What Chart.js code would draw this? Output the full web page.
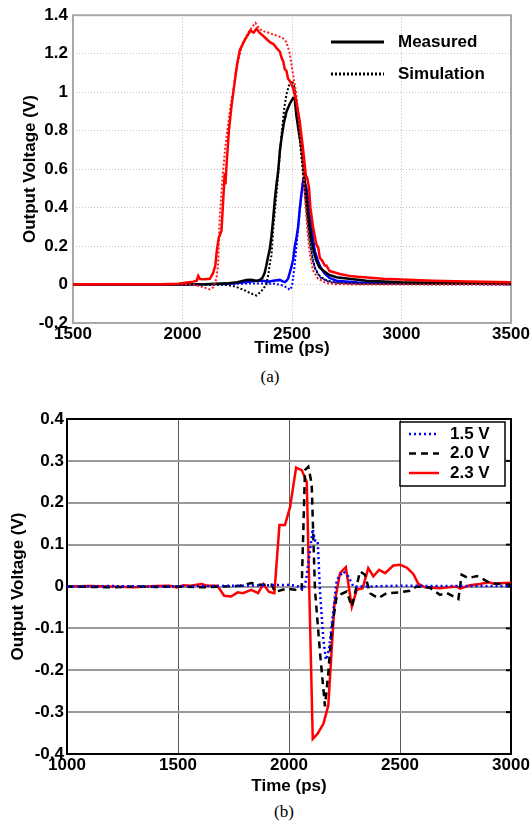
<!DOCTYPE html>
<html lang="en">
<head>
  <meta charset="UTF-8" />
  <title>Output voltage vs time</title>
  <script src="https://cdn.jsdelivr.net/npm/chart.js"></script>
  <style>
    body { margin: 0; background: #fff; width: 532px; height: 824px; position: relative; overflow: hidden; }
    .box { position: absolute; left: 0; width: 532px; }
    .cap { position: absolute; font-family: 'Liberation Serif', 'Times New Roman', serif; font-size: 17px; color: #000; transform: translateX(-50%); }
  </style>
</head>
<body>
  <!-- (a) measured vs simulation -->
  <div class="box" style="top:0;height:362px"><canvas id="chartA"></canvas></div>
  <div class="cap" style="left:270px;top:367px">(a)</div>

  <!-- (b) three supply voltages -->
  <div class="box" style="top:395px;height:405px"><canvas id="chartB"></canvas></div>
  <div class="cap" style="left:284px;top:802px">(b)</div>

<script>
// ---- (a) data: [time ps, volts] ----
const redMeasured = [[1500,0],[1600,0.002],[1700,0.001],[1800,0.002],[1900,0.002],[1980,0.004],[2020,0.01],[2050,0.015],[2065,0.02],[2072,0.045],[2080,0.028],[2100,0.027],[2125,0.03],[2140,0.06],[2150,0.1],[2157,0.18],[2165,0.24],[2178,0.28],[2188,0.48],[2193,0.58],[2196,0.52],[2201,0.62],[2212,0.8],[2224,0.93],[2239,1.06],[2250,1.15],[2262,1.22],[2284,1.27],[2300,1.3],[2310,1.32],[2325,1.31],[2338,1.33],[2350,1.31],[2361,1.3],[2380,1.28],[2399,1.26],[2415,1.25],[2429,1.23],[2445,1.21],[2452,1.18],[2460,1.16],[2467,1.12],[2475,1.11],[2482,1.07],[2495,1.05],[2505,1.02],[2520,0.95],[2535,0.85],[2550,0.71],[2563,0.57],[2570,0.55],[2578,0.5],[2584,0.4],[2596,0.3],[2611,0.21],[2620,0.19],[2627,0.14],[2640,0.12],[2649,0.1],[2657,0.098],[2672,0.07],[2703,0.06],[2718,0.055],[2763,0.045],[2800,0.04],[2915,0.03],[3000,0.026],[3143,0.02],[3300,0.016],[3500,0.012]];
const redSimulation = [[1500,0],[1800,0],[2050,0],[2090,-0.012],[2125,-0.025],[2140,-0.015],[2155,0.03],[2163,0.11],[2170,0.35],[2178,0.48],[2186,0.6],[2196,0.72],[2208,0.83],[2220,0.93],[2231,1.0],[2243,1.1],[2254,1.16],[2266,1.22],[2277,1.26],[2300,1.31],[2320,1.34],[2333,1.36],[2345,1.34],[2361,1.32],[2390,1.31],[2414,1.3],[2440,1.29],[2459,1.28],[2475,1.26],[2490,1.2],[2505,1.09],[2520,0.99],[2535,0.81],[2550,0.64],[2558,0.47],[2569,0.3],[2581,0.16],[2596,0.073],[2619,0.03],[2657,0.007],[2700,0.002],[2800,0],[3500,0]];
const blackMeasured = [[1500,0],[1900,0],[2100,0.002],[2200,0.006],[2250,0.012],[2292,0.024],[2315,0.025],[2338,0.018],[2355,0.025],[2365,0.035],[2375,0.06],[2383,0.1],[2390,0.14],[2398,0.18],[2406,0.25],[2413,0.33],[2421,0.435],[2429,0.52],[2437,0.59],[2445,0.7],[2452,0.76],[2463,0.84],[2475,0.9],[2490,0.94],[2505,0.97],[2512,0.97],[2520,0.88],[2530,0.8],[2543,0.71],[2558,0.54],[2573,0.37],[2589,0.23],[2600,0.17],[2611,0.124],[2625,0.09],[2642,0.073],[2670,0.05],[2703,0.038],[2780,0.028],[2839,0.02],[3000,0.012],[3200,0.008],[3500,0.005]];
const blackSimulation = [[1500,0],[2100,0],[2200,-0.002],[2240,-0.01],[2280,-0.028],[2310,-0.045],[2338,-0.057],[2360,-0.035],[2375,-0.012],[2383,0],[2393,0.06],[2400,0.12],[2406,0.15],[2415,0.3],[2430,0.48],[2440,0.62],[2452,0.78],[2465,0.92],[2475,0.99],[2490,1.05],[2500,1.06],[2510,1.03],[2520,0.94],[2535,0.76],[2550,0.58],[2565,0.4],[2580,0.23],[2595,0.12],[2610,0.07],[2630,0.04],[2660,0.02],[2700,0.01],[2800,0.004],[3500,0.002]];
const blueMeasured = [[1500,0],[2000,0],[2200,0.003],[2250,0.008],[2300,0.015],[2340,0.02],[2368,0.02],[2390,0.015],[2414,0.02],[2444,0.024],[2460,0.015],[2467,0.013],[2475,0.02],[2482,0.03],[2497,0.09],[2505,0.13],[2513,0.2],[2520,0.24],[2528,0.3],[2536,0.4],[2543,0.47],[2551,0.54],[2558,0.53],[2566,0.5],[2573,0.44],[2581,0.37],[2589,0.3],[2596,0.23],[2605,0.17],[2619,0.12],[2630,0.09],[2649,0.057],[2670,0.035],[2703,0.02],[2800,0.01],[3000,0.006],[3500,0.003]];
const blueSimulation = [[1500,0],[2100,0],[2250,0.004],[2350,0.006],[2420,0.004],[2460,-0.005],[2480,-0.018],[2490,-0.028],[2500,-0.01],[2510,0.08],[2520,0.19],[2535,0.38],[2550,0.54],[2558,0.53],[2563,0.5],[2573,0.35],[2589,0.18],[2604,0.09],[2627,0.038],[2672,0.012],[2750,0.004],[3500,0]];
const xTicksA = [1500, 2000, 2500, 3000, 3500];
const yTicksA = [-0.2, 0, 0.2, 0.4, 0.6, 0.8, 1, 1.2, 1.4];

// ---- (b) data ----
const legendB = ['1.5 V', '2.0 V', '2.3 V'];
const v15 = [[1000,0],[1200,0.001],[1400,0],[1600,0.001],[1800,0.002],[1900,0.003],[2005,0.004],[2042,0],[2065,-0.008],[2077,0.016],[2095,0.088],[2107,0.137],[2117,0.11],[2129,0.11],[2140,-0.016],[2155,-0.127],[2166,-0.175],[2180,-0.151],[2192,-0.095],[2215,0.016],[2245,0.036],[2267,0.024],[2290,0],[2357,0],[2500,0.002],[2700,0.001],[3000,0.001]];
const v20 = [[1000,0],[1100,-0.001],[1200,-0.002],[1300,0],[1400,-0.001],[1500,0],[1616,-0.002],[1700,0],[1780,0.002],[1830,0.008],[1870,0.004],[1922,0.004],[1937,-0.013],[1990,-0.005],[2027,-0.008],[2057,-0.008],[2072,0.278],[2087,0.286],[2102,0.246],[2117,-0.008],[2140,-0.16],[2162,-0.286],[2177,-0.207],[2192,-0.103],[2215,-0.023],[2260,-0.012],[2283,-0.048],[2320,0.036],[2342,0.028],[2365,-0.016],[2402,-0.028],[2440,-0.016],[2500,-0.014],[2545,-0.01],[2575,0],[2635,-0.003],[2680,-0.02],[2710,-0.015],[2763,-0.03],[2778,0.028],[2808,0.02],[2846,0.025],[2876,0.017],[2906,0.008],[3000,0.004]];
const v23 = [[1000,0],[1100,0.001],[1200,0],[1300,-0.002],[1400,0.001],[1463,0.002],[1494,-0.002],[1524,0.003],[1555,0.002],[1607,0.006],[1631,0.002],[1677,0.002],[1708,-0.022],[1739,-0.024],[1769,-0.014],[1792,-0.016],[1830,-0.008],[1861,-0.016],[1884,0.006],[1910,-0.013],[1934,-0.016],[1957,0.147],[1982,0.147],[2005,0.19],[2032,0.284],[2057,0.278],[2080,0.25],[2107,-0.364],[2128,-0.352],[2155,-0.328],[2177,-0.284],[2205,-0.04],[2230,0.032],[2256,0.046],[2283,-0.048],[2305,-0.008],[2332,-0.004],[2357,0.044],[2380,0.024],[2406,0.04],[2433,0.032],[2470,0.05],[2500,0.052],[2530,0.045],[2560,0.03],[2583,0.006],[2613,-0.002],[2680,-0.004],[2755,0],[2770,-0.005],[2815,0.003],[2860,0.006],[2898,0.01],[2920,0.007],[3000,0.009]];
const xTicksB = [1000, 1500, 2000, 2500, 3000];
const yTicksB = [-0.4, -0.3, -0.2, -0.1, 0, 0.1, 0.2, 0.3, 0.4];

const FONT = "'Liberation Sans', Arial, Helvetica, sans-serif";
Chart.defaults.font.family = FONT;
Chart.defaults.font.size = 17;
Chart.defaults.font.weight = 'bold';
Chart.defaults.color = '#000';

const toXY = arr => arr.map(([x, y]) => ({ x, y }));

// box around the plot area (+ optional inner ticks on the right side)
const framePlugin = {
  id: 'frame',
  beforeDatasetsDraw(chart, args, o) {
    const { ctx, chartArea: a } = chart;
    ctx.save();
    ctx.strokeStyle = o.color;
    ctx.lineWidth = o.width;
    ctx.strokeRect(a.left, a.top, a.right - a.left, a.bottom - a.top);
    if (o.rightTicks) {
      const ys = chart.scales.y;
      ys.ticks.forEach(t => {
        const py = ys.getPixelForValue(t.value);
        ctx.beginPath();
        ctx.moveTo(a.right, py);
        ctx.lineTo(a.right - o.rightTicks, py);
        ctx.stroke();
      });
    }
    ctx.restore();
  }
};

// legend drawn inside the plot, line samples taken from the datasets
const lineLegend = {
  id: 'lineLegend',
  afterDraw(chart, args, o) {
    const ctx = chart.ctx;
    ctx.save();
    if (o.box) {
      ctx.fillStyle = '#fff';
      ctx.fillRect(o.box[0], o.box[1], o.box[2], o.box[3]);
      ctx.strokeStyle = '#000';
      ctx.lineWidth = 1.5;
      ctx.strokeRect(o.box[0], o.box[1], o.box[2], o.box[3]);
    }
    o.items.forEach((idx, i) => {
      const ds = chart.data.datasets[idx];
      const y = o.y + i * o.rowH;
      ctx.strokeStyle = ds.borderColor;
      ctx.lineWidth = o.lineW || ds.borderWidth;
      ctx.setLineDash(ds.borderDash || []);
      ctx.beginPath();
      ctx.moveTo(o.x, y);
      ctx.lineTo(o.x + o.lineLen, y);
      ctx.stroke();
      ctx.setLineDash([]);
      ctx.fillStyle = '#000';
      ctx.font = 'bold 17px ' + FONT;
      ctx.textBaseline = 'middle';
      ctx.textAlign = 'left';
      ctx.fillText(ds.label, o.x + o.textGap, y);
    });
    ctx.restore();
  }
};

function line(label, data, color, width, dash) {
  return { label, data: toXY(data), borderColor: color, borderWidth: width, borderDash: dash || [], pointRadius: 0, tension: 0, fill: false };
}

// ---------- chart (a) ----------
new Chart(document.getElementById('chartA'), {
  type: 'line',
  data: {
    datasets: [
      line('Measured', redMeasured, '#ff0000', 2.5),
      line('Simulation', redSimulation, '#ff1a1a', 2, [2, 2]),
      line('Measured', blackMeasured, '#000000', 2.5),
      line('Simulation', blackSimulation, '#000000', 2, [2, 2]),
      line('Measured', blueMeasured, '#0000ff', 2.5),
      line('Simulation', blueSimulation, '#0000ff', 2, [2, 2])
    ]
  },
  options: {
    responsive: true,
    maintainAspectRatio: false,
    animation: false,
    events: [],
    layout: { padding: { left: 0, right: 21, top: 14, bottom: 0 } },
    scales: {
      x: {
        type: 'linear', min: 1500, max: 3500,
        afterBuildTicks: s => { s.ticks = xTicksA.map(v => ({ value: v })); },
        afterFit: s => { s.height = 39; },
        grid: { color: '#c4c4c4', lineWidth: 1, drawTicks: false },
        border: { display: false, dash: [1, 2] },
        ticks: { padding: 1, maxRotation: 0, callback: v => String(v) },
        title: { display: true, text: 'Time (ps)', padding: { top: 0, bottom: 3.5 } }
      },
      y: {
        min: -0.2, max: 1.4,
        afterBuildTicks: s => { s.ticks = yTicksA.map(v => ({ value: v })); },
        afterFit: s => { s.width = 73; },
        grid: { color: '#c4c4c4', lineWidth: 1, drawTicks: false },
        border: { display: false, dash: [1, 2] },
        ticks: { padding: 5, callback: v => String(v) },
        title: { display: true, text: 'Output Voltage (V)', padding: { top: 20, bottom: 0 } }
      }
    },
    plugins: {
      legend: { display: false },
      tooltip: { enabled: false },
      frame: { color: '#a8a8a8', width: 2 },
      lineLegend: { items: [2, 3], x: 331, y: 42, rowH: 32, lineLen: 53, textGap: 67, lineW: 3 }
    }
  },
  plugins: [framePlugin, lineLegend]
});

// ---------- chart (b) ----------
new Chart(document.getElementById('chartB'), {
  type: 'line',
  data: {
    datasets: [
      line(legendB[0], v15, '#0000ff', 2.5, [2, 3]),
      line(legendB[1], v20, '#000000', 2.5, [7, 5]),
      line(legendB[2], v23, '#ff0000', 2.5)
    ]
  },
  options: {
    responsive: true,
    maintainAspectRatio: false,
    animation: false,
    events: [],
    layout: { padding: { left: 0, right: 21, top: 24, bottom: 0 } },
    scales: {
      x: {
        type: 'linear', min: 1000, max: 3000,
        afterBuildTicks: s => { s.ticks = xTicksB.map(v => ({ value: v })); },
        afterFit: s => { s.height = 46; },
        grid: { color: '#5a5a5a', lineWidth: 1, drawTicks: false },
        border: { display: false },
        ticks: { padding: 1.5, maxRotation: 0, callback: v => String(v) },
        title: { display: true, text: 'Time (ps)', padding: { top: 0, bottom: 3.8 } }
      },
      y: {
        min: -0.4, max: 0.4,
        afterBuildTicks: s => { s.ticks = yTicksB.map(v => ({ value: v })); },
        afterFit: s => { s.width = 67; },
        grid: { color: '#9a9a9a', lineWidth: 2, drawTicks: false },
        border: { display: false },
        ticks: { padding: 3, callback: v => String(v) },
        title: { display: true, text: 'Output Voltage (V)', padding: { top: 8.5, bottom: 0 } }
      }
    },
    plugins: {
      legend: { display: false },
      tooltip: { enabled: false },
      frame: { color: '#000', width: 2, rightTicks: 5 },
      lineLegend: { items: [0, 1, 2], box: [400, 27, 105, 64], x: 409, y: 39, rowH: 19.5, lineLen: 30, textGap: 41 }
    }
  },
  plugins: [framePlugin, lineLegend]
});
</script>
</body>
</html>
